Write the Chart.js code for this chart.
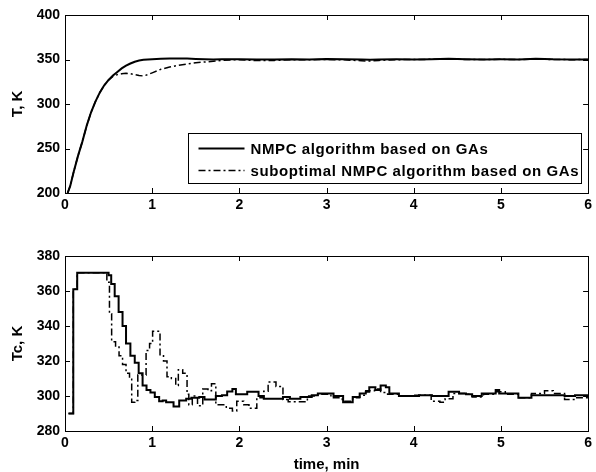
<!DOCTYPE html>
<html>
<head>
<meta charset="utf-8">
<script src="https://cdn.jsdelivr.net/npm/chart.js@4.4.1/dist/chart.umd.min.js"></script>
<style>
  body { margin: 0; background: #fff; }
  #wrap { position: relative; width: 596px; height: 472px; }
  canvas { position: absolute; left: 0; }
</style>
</head>
<body>
<div id="wrap">
  <canvas id="tchart" width="596" height="218" style="top:0px"></canvas>
  <canvas id="tcchart" width="596" height="236" style="top:236px"></canvas>
</div>
<script>
// top plot: reactor temperature T, K
var timeT = [0.03,0.06,0.1,0.15,0.2,0.25,0.3,0.35,0.4,0.45,0.5,0.55,0.6,0.65,0.7,0.75,0.8,0.85,0.9,0.95,
  1.0,1.1,1.2,1.3,1.4,1.5,1.6,1.7,1.8,1.9,2.0,2.2,2.4,2.6,2.8,3.0,3.2,3.4,3.5,3.6,3.8,4.0,4.2,4.4,4.6,4.8,
  5.0,5.2,5.4,5.6,5.8,6.0];
var nmpcT = [200,208,224,242,258,276,291,303,313,321,327,332,336,340,343,345.5,347.5,348.8,349.6,350,
  350.3,350.8,351,351,351,350.6,350.2,350,350.2,350.3,350.2,350,350.1,350.3,350,350.6,350.2,350,349.8,350,
  350.2,350.1,350.3,350.8,350.2,350,350.2,350.1,350.9,350.2,350,350];
var suboptT = [200,208,224,242,258,276,291,303,313,321,327,331,333,334,334.5,334,333,332,331.5,333,
  335,339,341.5,343.5,345,346.3,347.2,348,349,349.5,349.8,348.8,349,349.8,349.6,350,349.6,348.6,348.2,349,
  349.8,350,350.2,350.5,350,350,350.2,349.9,350.5,350,349.8,350];

// bottom plot: coolant temperature Tc, K (held constant between control moves)
var timeTcNmpc = [0.04,0.095,0.14,0.50,0.53,0.57,0.615,0.66,0.70,0.75,0.80,0.845,0.89,0.935,0.98,1.03,1.08,
  1.12,1.16,1.245,1.31,1.39,1.45,1.54,1.6,1.73,1.8,1.86,1.92,1.96,2.09,2.22,2.28,2.5,2.58,2.7,2.83,2.9,
  3.08,3.19,3.3,3.38,3.45,3.49,3.56,3.62,3.68,3.72,3.83,4.06,4.21,4.40,4.52,4.6,4.67,4.78,4.94,4.98,5.2,
  5.35,5.73,5.85,6.0];
var nmpcTc = [290,361,370.5,369,364,357,348,340,330,323,319,313,306,303.5,302,299.5,297,297.5,296.5,294,
  297.5,298.5,299,299.5,298,300,300.5,302.6,304,301,302.5,300,298.5,299.5,298.5,299.5,300.5,301.5,300,296.5,
  299.5,301.5,302.5,305,303.5,306,305,301.5,300,300.5,300,302.5,301.5,301,300,301.5,303.5,301.5,299,300.5,
  300,300.5,300.5];
var timeTcSub = [0.04,0.095,0.14,0.48,0.51,0.535,0.58,0.62,0.66,0.70,0.74,0.765,0.80,0.835,0.93,0.97,1.005,
  1.09,1.13,1.17,1.22,1.27,1.30,1.35,1.40,1.42,1.46,1.52,1.58,1.64,1.68,1.73,1.85,1.92,1.97,2.05,2.11,2.2,
  2.28,2.33,2.42,2.5,2.56,2.78,2.9,3.05,3.18,3.3,3.38,3.45,3.55,3.62,3.7,3.83,4.0,4.2,4.3,4.36,4.45,4.6,
  4.67,4.8,4.94,5.05,5.2,5.35,5.5,5.6,5.73,5.85,6.0];
var suboptTc = [290,361,370.5,365,347,331,328,323,318,313,310,296.5,297.5,312,326,330,337,323,320,311,
  310,306,315,313,301,295,300,294.5,304,303,307,295,293,291.5,297,295,293,299,302.7,308,
  305.5,298,296.7,300,301,299,297,299,300.5,303,304,302,301,300,300.5,297,296.5,298.5,301.5,301,
  299.5,301,302.5,301,299,301.5,303,301.5,298,299,300.5];

var xTicks = [0,1,2,3,4,5,6];
var tTicks = [200,250,300,350,400];
var tcTicks = [280,300,320,340,360,380];

var labelNmpc = 'NMPC algorithm based on GAs';
var labelSub = 'suboptimal NMPC algorithm based on GAs';

Chart.defaults.color = '#000';
Chart.defaults.font.family = '"Liberation Sans", Arial, sans-serif';
Chart.defaults.font.weight = 'bold';
Chart.defaults.font.size = 14;

function toPoints(xs, ys) {
  return xs.map(function(x, i) { return {x: x, y: ys[i]}; });
}

// box round the plot area plus inward tick marks on all four sides (matlab look)
var framePlugin = {
  id: 'frame',
  afterDraw: function(chart) {
    var ctx = chart.ctx;
    var a = chart.chartArea;
    var xs = chart.scales.x, ys = chart.scales.y;
    ctx.save();
    ctx.strokeStyle = '#000';
    ctx.lineWidth = 1;
    ctx.strokeRect(Math.round(a.left) + 0.5, Math.round(a.top) + 0.5,
      Math.round(a.right - a.left), Math.round(a.bottom - a.top));
    ctx.beginPath();
    xs.ticks.forEach(function(t) {
      var px = Math.round(xs.getPixelForValue(t.value)) + 0.5;
      ctx.moveTo(px, a.bottom); ctx.lineTo(px, a.bottom - 5);
      ctx.moveTo(px, a.top); ctx.lineTo(px, a.top + 5);
    });
    ys.ticks.forEach(function(t) {
      var py = Math.round(ys.getPixelForValue(t.value)) + 0.5;
      ctx.moveTo(a.left, py); ctx.lineTo(a.left + 5, py);
      ctx.moveTo(a.right, py); ctx.lineTo(a.right - 5, py);
    });
    ctx.stroke();
    ctx.restore();
  }
};

// legend box inside the lower right corner of the top plot
var boxLegend = {
  id: 'boxLegend',
  afterDraw: function(chart) {
    var ctx = chart.ctx;
    var a = chart.chartArea;
    var left = Math.round(a.left) + 123.5, right = Math.round(a.right) - 6.5;
    var bottom = Math.round(a.bottom) - 9.5, top = bottom - 50;
    ctx.save();
    ctx.fillStyle = '#fff';
    ctx.fillRect(left, top, right - left, bottom - top);
    ctx.strokeStyle = '#000';
    ctx.lineWidth = 1;
    ctx.strokeRect(left, top, right - left, bottom - top);
    chart.data.datasets.forEach(function(ds, i) {
      var y = top + 15 + i * 22;
      ctx.beginPath();
      ctx.lineWidth = ds.borderWidth;
      ctx.setLineDash(ds.borderDash || []);
      ctx.moveTo(left + 10, y);
      ctx.lineTo(left + 56, y);
      ctx.stroke();
      ctx.setLineDash([]);
      ctx.fillStyle = '#000';
      ctx.font = 'bold 15px "Liberation Sans", Arial, sans-serif';
      ctx.letterSpacing = '0.6px';
      ctx.textBaseline = 'middle';
      ctx.fillText(ds.label, left + 62, y + 1);
    });
    ctx.restore();
  }
};

function axisOptions(min, max, tickVals, title, titlePad, tickPad, size, isX) {
  var o = {
    type: 'linear',
    min: min,
    max: max,
    grid: { display: false, drawTicks: false },
    border: { display: false },
    ticks: { padding: tickPad, maxRotation: 0, autoSkip: false },
    afterBuildTicks: function(s) { s.ticks = tickVals.map(function(v) { return {value: v}; }); },
    title: {
      display: !!title,
      text: title,
      font: { size: 15, weight: 'bold', lineHeight: 1 },
      padding: titlePad
    }
  };
  o.afterFit = isX ? function(s) { s.height = size; } : function(s) { s.width = size; };
  return o;
}

function makeChart(id, dsA, dsB, yMin, yMax, yTicks, yTitle, xTitle, padTop, xAxisH, stepped, legend) {
  return new Chart(document.getElementById(id), {
    type: 'line',
    data: {
      datasets: [{
        label: labelNmpc,
        data: dsA,
        borderColor: '#000',
        borderWidth: 2,
        pointRadius: 0,
        stepped: stepped,
        tension: 0
      }, {
        label: labelSub,
        data: dsB,
        borderColor: '#000',
        borderWidth: 1.5,
        borderDash: [7, 3, 2, 3],
        pointRadius: 0,
        stepped: stepped,
        tension: 0
      }]
    },
    options: {
      responsive: false,
      animation: false,
      devicePixelRatio: 1,
      layout: { padding: { top: padTop, right: 4, left: 0, bottom: 0 } },
      plugins: { legend: { display: false }, tooltip: { enabled: false } },
      scales: {
        x: axisOptions(0, 6, xTicks, xTitle, { top: 0, bottom: 0 }, 4, xAxisH, true),
        y: axisOptions(yMin, yMax, yTicks, yTitle, { top: 10, bottom: 0 }, 5, 65, false)
      }
    },
    plugins: legend ? [framePlugin, boxLegend] : [framePlugin]
  });
}

makeChart('tchart', toPoints(timeT, nmpcT), toPoints(timeT, suboptT),
  200, 400, tTicks, 'T, K', '', 15, 25, false, true);
makeChart('tcchart', toPoints(timeTcNmpc, nmpcTc), toPoints(timeTcSub, suboptTc),
  280, 380, tcTicks, 'Tc, K', 'time, min', 20, 41, true, false);
</script>
</body>
</html>
